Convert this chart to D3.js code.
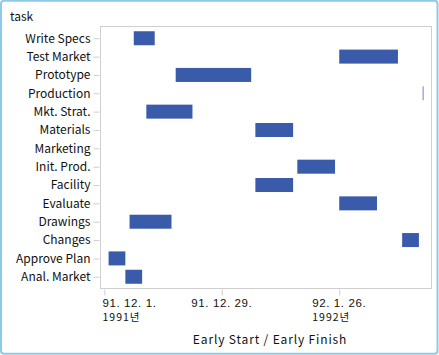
<!DOCTYPE html>
<html>
<head>
<meta charset="utf-8">
<script src="https://cdn.jsdelivr.net/npm/d3@7"></script>
<style>
  html, body { margin: 0; padding: 0; background: #fff; }
  svg { display: block; }
  text { font-family: "Noto Sans CJK KR", "Liberation Sans", sans-serif; fill: #111; }
</style>
</head>
<body>
<svg id="chart" width="439" height="355"></svg>
<script>
// ---- data ----
const tasks = ["Write Specs", "Test Market", "Prototype", "Production", "Mkt. Strat.", "Materials",
  "Marketing", "Init. Prod.", "Facility", "Evaluate", "Drawings", "Changes", "Approve Plan", "Anal. Market"];
const earlyStart = ["1991-12-08", "1992-01-26", "1991-12-18", "1992-02-15", "1991-12-11", "1992-01-06",
  null, "1992-01-16", "1992-01-06", "1992-01-26", "1991-12-07", "1992-02-10", "1991-12-02", "1991-12-06"];
const earlyFinish = ["1991-12-13", "1992-02-09", "1992-01-05", "1992-02-15", "1991-12-22", "1992-01-15",
  null, "1992-01-25", "1992-01-15", "1992-02-04", "1991-12-17", "1992-02-14", "1991-12-06", "1991-12-10"];
const xDomain = ["1991-11-30", "1992-02-17"];
const tickDates = ["1991-12-01", "1991-12-29", "1992-01-26"];
const tickLine1 = ["91. 12. 1.", "91. 12. 29.", "92. 1. 26."];
const tickLine2 = ["1991년", "", "1992년"];
const xTitle = "Early Start / Early Finish";
const yTitle = "task";

// ---- layout ----
const W = 439, H = 355;
const plot = { left: 100.5, top: 26.5, right: 431.5, bottom: 288.5 };
const parse = d3.utcParse("%Y-%m-%d");
const svg = d3.select("#chart");

// outer border
svg.append("rect").attr("x", 1).attr("y", 0.75).attr("width", W - 2.5).attr("height", H - 2)
  .attr("rx", 3).attr("fill", "#fff").attr("stroke", "#8ec9ea").attr("stroke-width", 2);

const x = d3.scaleUtc().domain(xDomain.map(parse)).range([plot.left - 0.3, plot.right]);
const y = d3.scalePoint().domain(tasks).range([plot.top, plot.bottom]).padding(0.64);

// frame
svg.append("rect").attr("x", plot.left).attr("y", plot.top)
  .attr("width", plot.right - plot.left).attr("height", plot.bottom - plot.top)
  .attr("fill", "none").attr("stroke", "#cfcfcf").attr("stroke-width", 1);

// y axis
const yAxis = svg.append("g").attr("transform", `translate(${plot.left - 1},0)`)
  .call(d3.axisLeft(y).tickSize(6).tickPadding(3));
yAxis.select(".domain").remove();
yAxis.selectAll(".tick line").attr("stroke", "#cfcfcf");
yAxis.selectAll(".tick text").attr("font-size", 12).attr("fill", "#111")
  .style("font-family", '"Noto Sans CJK KR", "Liberation Sans", sans-serif');

// x axis ticks
const xAxis = svg.append("g").attr("transform", `translate(0,${plot.bottom + 1})`)
  .call(d3.axisBottom(x).tickValues(tickDates.map(parse)).tickSize(6).tickFormat(""));
xAxis.select(".domain").remove();
xAxis.selectAll(".tick line").attr("stroke", "#cfcfcf");

// x tick labels (two lines, left-aligned block centred on its tick)
tickDates.forEach((d, i) => {
  const tx = x(parse(d));
  const t1 = svg.append("text").attr("y", 306.5).attr("font-size", 11.5)
    .attr("letter-spacing", 0.6).style("font-family", '"Liberation Sans", sans-serif')
    .text(tickLine1[i]);
  const w = t1.node().getComputedTextLength();
  let left = tx - w / 2;
  if (left < plot.left + 2) left = plot.left + 2;
  t1.attr("x", left);
  if (tickLine2[i]) {
    svg.append("text").attr("x", left).attr("y", 321.3).attr("font-size", 10.5)
      .attr("letter-spacing", 1).text(tickLine2[i]);
  }
});

// bars
const rows = tasks.map((t, i) => ({ task: t, s: earlyStart[i] ? parse(earlyStart[i]) : null,
  f: earlyFinish[i] ? parse(earlyFinish[i]) : null })).filter(d => d.s && d.f);
const barH = 14;
svg.append("g").selectAll("rect").data(rows).join("rect")
  .attr("x", d => { const w = x(d.f) - x(d.s); return w < 1 ? x(d.s) - 0.5 : x(d.s); })
  .attr("y", d => y(d.task) - barH / 2)
  .attr("width", d => Math.max(1, x(d.f) - x(d.s)))
  .attr("height", barH)
  .attr("fill", d => (x(d.f) - x(d.s)) < 1 ? "#6f86c6" : "#3a5baa");

// titles
svg.append("text").attr("x", 10).attr("y", 21).attr("font-size", 12).text(yTitle);
svg.append("text").attr("x", 270).attr("y", 344).attr("text-anchor", "middle")
  .attr("font-size", 12).attr("letter-spacing", 0.85).text(xTitle);
</script>
</body>
</html>
